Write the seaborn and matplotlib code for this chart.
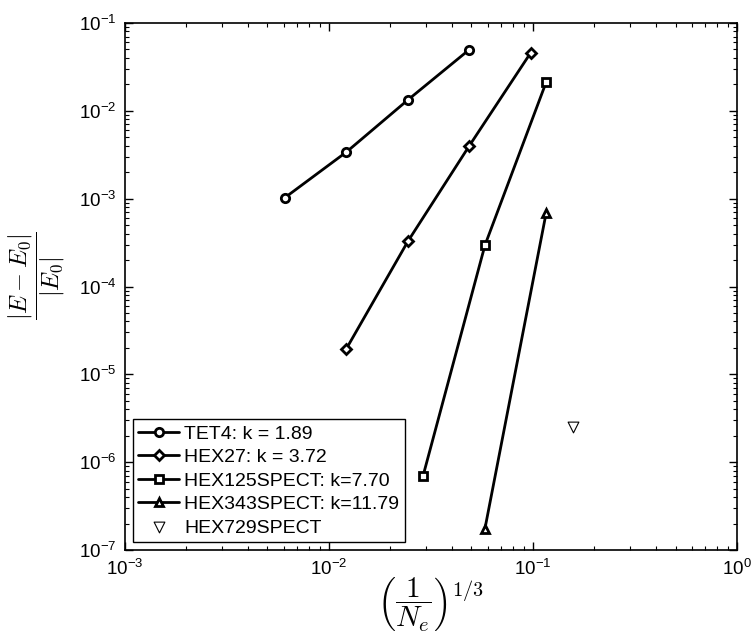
import matplotlib
matplotlib.use('Agg')
import matplotlib.pyplot as plt
from matplotlib.ticker import LogLocator, NullFormatter
import seaborn as sns
import pandas as pd

# Data (log-log convergence plot)
tet4_x = [0.0061, 0.0122, 0.0244, 0.0488]
tet4_y = [1.03e-3, 3.4e-3, 1.33e-2, 4.97e-2]

hex27_x = [0.0122, 0.0244, 0.0488, 0.0977]
hex27_y = [1.97e-5, 3.27e-4, 4.0e-3, 4.6e-2]

hex125_x = [0.0289, 0.0582, 0.116]
hex125_y = [6.9e-7, 2.95e-4, 2.1e-2]

hex343_x = [0.0582, 0.116]
hex343_y = [1.76e-7, 6.8e-4]

hex729_x = [0.158]
hex729_y = [2.52e-6]

labels = ['TET4: k = 1.89', 'HEX27: k = 3.72', 'HEX125SPECT: k=7.70',
          'HEX343SPECT: k=11.79', 'HEX729SPECT']

# Styling (MATLAB-like look)
sns.set_style('ticks')
plt.rcParams['font.family'] = ['Liberation Sans', 'DejaVu Sans']
plt.rcParams['mathtext.fontset'] = 'cm'
plt.rcParams['xtick.direction'] = 'in'
plt.rcParams['ytick.direction'] = 'in'
plt.rcParams['xtick.top'] = True
plt.rcParams['ytick.right'] = True
for key in ['text.color', 'axes.labelcolor', 'xtick.color',
            'ytick.color', 'axes.edgecolor']:
    plt.rcParams[key] = 'black'

line_c = 'black'
lw = 2.0
ms = 6

fig = plt.figure(figsize=(7.52, 6.36), dpi=100)
ax = fig.add_axes([0.166, 0.135, 0.814, 0.829])

series = [
    (tet4_x, tet4_y, 'o'),
    (hex27_x, hex27_y, 'D'),
    (hex125_x, hex125_y, 's'),
    (hex343_x, hex343_y, '^'),
]

for (xs, ys, mk), lab in zip(series, labels[:4]):
    df = pd.DataFrame({'x': xs, 'y': ys})
    sns.lineplot(data=df, x='x', y='y', ax=ax, color=line_c, lw=lw,
                 marker=mk, markersize=ms if mk != 'D' else 5,
                 markerfacecolor='white', markeredgecolor=line_c,
                 markeredgewidth=2, label=lab, sort=False)

df729 = pd.DataFrame({'x': hex729_x, 'y': hex729_y})
sns.scatterplot(data=df729, x='x', y='y', ax=ax, marker='v', s=60,
                facecolor='white', edgecolor=line_c, linewidth=0.8,
                label=labels[4])

ax.set_xscale('log')
ax.set_yscale('log')
ax.set_xlim(1e-3, 1e0)
ax.set_ylim(1e-7, 1e-1)

# Minor ticks at 2..9 of each decade
for axis in [ax.xaxis, ax.yaxis]:
    axis.set_major_locator(LogLocator(base=10, numticks=20))
    axis.set_minor_locator(LogLocator(base=10, subs=range(2, 10), numticks=100))
    axis.set_minor_formatter(NullFormatter())

ax.tick_params(which='major', length=6, width=1, labelsize=13.5, pad=6)
ax.tick_params(which='minor', length=3, width=0.8)
for sp in ax.spines.values():
    sp.set_linewidth(1.2)

ax.set_xlabel(r'$\left(\dfrac{1}{N_e}\right)^{1/3}$', fontsize=21, labelpad=-2)
ax.set_ylabel(r'$\dfrac{|E - E_0|}{|E_0|}$', fontsize=17.5)
ax.yaxis.set_label_coords(-0.095, 0.52)

leg = ax.legend(loc='lower left', fontsize=14, frameon=True, fancybox=False,
                edgecolor='black', framealpha=1, borderpad=0.3,
                labelspacing=0.3, handlelength=2.1, handletextpad=0.25,
                borderaxespad=0.4)
leg.get_frame().set_linewidth(1.0)

fig.savefig('out.png', dpi=100)
